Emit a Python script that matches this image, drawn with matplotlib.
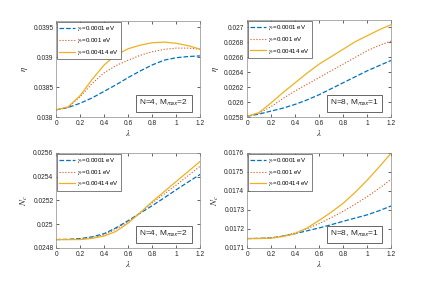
import numpy as np
import matplotlib
matplotlib.use("Agg")
import matplotlib.pyplot as plt
from matplotlib.ticker import FuncFormatter, MultipleLocator

plt.rcParams['font.family'] = ['Liberation Sans', 'DejaVu Sans']
plt.rcParams['mathtext.fontset'] = 'stix'

# lambda grid shared by all panels
lam = [0.0, 0.1, 0.2, 0.3, 0.4, 0.5, 0.6, 0.7, 0.8, 0.9, 1.0, 1.1, 1.2]

labels = [r'$\gamma_v$=0.0001 eV', r'$\gamma_v$=0.001 eV', r'$\gamma_v$=0.00414 eV']

# eta, N=4, Mmax=2
eta_n4_a = [0.03812, 0.03816, 0.03823, 0.03832, 0.03843, 0.03854, 0.03866, 0.03877, 0.03887, 0.03895, 0.03899, 0.03901, 0.03902]
eta_n4_b = [0.03812, 0.03816, 0.03834, 0.03856, 0.03874, 0.03886, 0.03895, 0.03903, 0.03909, 0.03913, 0.03915, 0.03915, 0.03913]
eta_n4_c = [0.03812, 0.03817, 0.03836, 0.03863, 0.03887, 0.03904, 0.03914, 0.03920, 0.03924, 0.03925, 0.03923, 0.03919, 0.03913]

# eta, N=8, Mmax=1
eta_n8_a = [0.02581, 0.02584, 0.02588, 0.02592, 0.02597, 0.02603, 0.02610, 0.02618, 0.02626, 0.02634, 0.02642, 0.02649, 0.02656]
eta_n8_b = [0.02581, 0.02585, 0.02594, 0.02605, 0.02615, 0.02624, 0.02633, 0.02642, 0.02651, 0.02660, 0.02669, 0.02676, 0.02682]
eta_n8_c = [0.02581, 0.02586, 0.02599, 0.02613, 0.02626, 0.02639, 0.02651, 0.02661, 0.02671, 0.02681, 0.02689, 0.02697, 0.02704]

# Nc, N=4, Mmax=2
nc_n4_a = [0.02487, 0.024872, 0.024878, 0.024893, 0.02492, 0.02497, 0.02503, 0.025093, 0.025156, 0.025222, 0.02529, 0.025356, 0.02542]
nc_n4_b = [0.02487, 0.02487, 0.024873, 0.024885, 0.02491, 0.02496, 0.02502, 0.025098, 0.02518, 0.025255, 0.02533, 0.02541, 0.02549]
nc_n4_c = [0.02487, 0.02487, 0.02487, 0.02488, 0.02490, 0.02494, 0.02501, 0.025097, 0.02519, 0.025275, 0.02536, 0.025445, 0.02553]

# Nc, N=8, Mmax=1
nc_n8_a = [0.017149, 0.01715, 0.017152, 0.017162, 0.017175, 0.01719, 0.017205, 0.017222, 0.01724, 0.017257, 0.017274, 0.017296, 0.017321]
nc_n8_b = [0.017149, 0.01715, 0.017153, 0.017163, 0.017179, 0.017201, 0.017228, 0.017259, 0.017293, 0.01733, 0.01737, 0.017414, 0.017462]
nc_n8_c = [0.017149, 0.017149, 0.017151, 0.01716, 0.017175, 0.017205, 0.017245, 0.017288, 0.017335, 0.017393, 0.017457, 0.017527, 0.0176]

colors = ['#0072BD', '#D95319', '#EDB120']
styles = ['--', ':', '-']
widths = [0.9, 0.8, 0.9]

panels = [
    ([eta_n4_a, eta_n4_b, eta_n4_c], (0.038, 0.0396), 0.0005, r'$\eta$', r'N=4, M$_\mathsf{max}$=2'),
    ([eta_n8_a, eta_n8_b, eta_n8_c], (0.0258, 0.0271), 0.0002, r'$\eta$', r'N=8, M$_\mathsf{max}$=1'),
    ([nc_n4_a, nc_n4_b, nc_n4_c], (0.0248, 0.0256), 0.0002, r'$N_c$', r'N=4, M$_\mathsf{max}$=2'),
    ([nc_n8_a, nc_n8_b, nc_n8_c], (0.0171, 0.0176), 0.0001, r'$N_c$', r'N=8, M$_\mathsf{max}$=1'),
]

positions = [
    [0.130, 0.585, 0.334, 0.340],
    [0.572, 0.585, 0.334, 0.344],
    [0.130, 0.121, 0.334, 0.337],
    [0.572, 0.121, 0.334, 0.337],
]

fmt = FuncFormatter(lambda v, p: ('%.5f' % v).rstrip('0').rstrip('.'))

fig = plt.figure(figsize=(4.32, 2.82), dpi=100)

for (series, ylim, step, ylab, note), pos in zip(panels, positions):
    ax = fig.add_axes(pos)
    for y, c, ls, lw, lab in zip(series, colors, styles, widths, labels):
        ax.plot(lam, y, color=c, linestyle=ls, linewidth=lw, label=lab)
    ax.set_xlim(0, 1.2)
    ax.set_ylim(*ylim)
    ax.xaxis.set_major_locator(MultipleLocator(0.2))
    ax.yaxis.set_major_locator(MultipleLocator(step))
    ax.xaxis.set_major_formatter(fmt)
    ax.yaxis.set_major_formatter(fmt)
    ax.tick_params(direction='in', length=2, width=0.5, labelsize=4.8,
                   colors='#262626', top=True, right=True, pad=2)
    for s in ax.spines.values():
        s.set_color('#8c8c8c')
        s.set_linewidth(0.5)
    ax.set_xlabel(r'$\lambda$', fontsize=6.5, labelpad=1, color='#262626')
    ax.set_ylabel(ylab, fontsize=6.5, labelpad=2, color='#262626')
    leg = ax.legend(loc='upper left', fontsize=4.4, handlelength=2.6, handletextpad=0.3,
                    borderpad=0.35, labelspacing=0.45, borderaxespad=0.15, fancybox=False,
                    framealpha=1)
    leg.get_frame().set_edgecolor('#4d4d4d')
    leg.get_frame().set_linewidth(0.5)
    ax.text(0.915, 0.09, note, transform=ax.transAxes, ha='right', va='bottom',
            fontsize=6.0, color='#262626',
            bbox=dict(boxstyle='square,pad=0.4', facecolor='white',
                      edgecolor='#4d4d4d', linewidth=0.6))

fig.savefig('out.png', dpi=100)
